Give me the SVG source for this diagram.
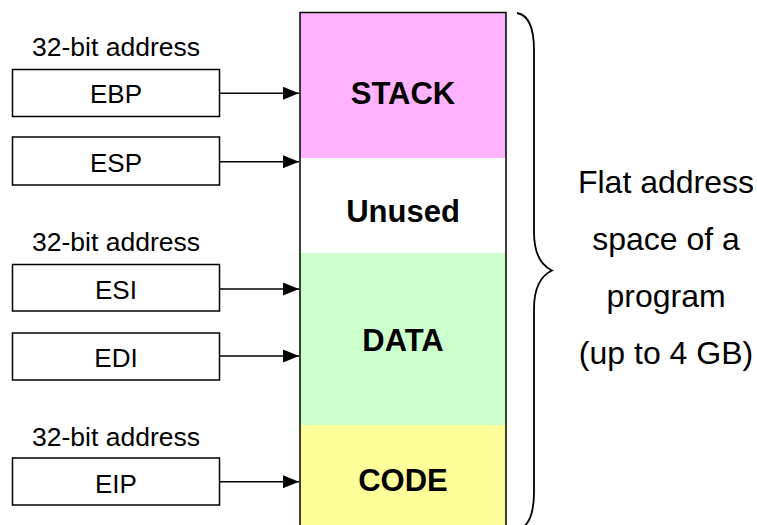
<svg xmlns="http://www.w3.org/2000/svg" width="757" height="525" viewBox="0 0 757 525">
  <style>
    .reg rect { fill: #ffffff; stroke: #000000; stroke-width: 1.5; }
    .reg text, .cap { font-family: "Liberation Sans", Arial, sans-serif; font-size: 26px; fill: #000000; text-anchor: middle; }
    .cap { font-size: 26.5px; }
    .seg text { font-family: "Liberation Sans", Arial, sans-serif; font-size: 31px; font-weight: bold; fill: #000000; text-anchor: middle; }
    .note { font-family: "Liberation Sans", Arial, sans-serif; font-size: 32px; fill: #000000; text-anchor: middle; }
    .link { stroke: #000000; stroke-width: 1.5; fill: none; marker-end: url(#head); }
  </style>
  <defs>
    <marker id="head" viewBox="0 0 16 13" refX="16" refY="6.5" markerWidth="16" markerHeight="13" markerUnits="userSpaceOnUse" orient="auto">
      <path d="M0,0 L16,6.5 L0,13 Z" fill="#000000"/>
    </marker>
  </defs>
  <rect width="757" height="525" fill="#ffffff"/>

  <!-- memory column segments -->
  <g id="stack" class="seg">
    <rect x="300" y="12.5" width="206" height="145.5" fill="#ffb3ff"/>
    <text x="403" y="104">STACK</text>
  </g>
  <g id="unused" class="seg">
    <rect x="300" y="158" width="206" height="95" fill="#ffffff"/>
    <text x="403" y="221.5">Unused</text>
  </g>
  <g id="data" class="seg">
    <rect x="300" y="253" width="206" height="172" fill="#ccffcc"/>
    <text x="403" y="350.5">DATA</text>
  </g>
  <g id="code" class="seg">
    <rect x="300" y="425" width="206" height="110" fill="#ffff99"/>
    <text x="403" y="490.5">CODE</text>
  </g>
  <!-- column outline (open at the bottom edge) -->
  <path d="M300,535 L300,12.5 L506,12.5 L506,535" fill="none" stroke="#000000" stroke-width="1.5"/>

  <!-- register boxes -->
  <text class="cap" x="116" y="55.5">32-bit address</text>
  <g id="ebp" class="reg">
    <rect x="12.5" y="69.5" width="207" height="47"/>
    <text x="116" y="103">EBP</text>
  </g>
  <g id="esp" class="reg">
    <rect x="12.5" y="137" width="207" height="48"/>
    <text x="116" y="171.5">ESP</text>
  </g>
  <text class="cap" x="116" y="250.5">32-bit address</text>
  <g id="esi" class="reg">
    <rect x="12.5" y="264.5" width="207" height="46.5"/>
    <text x="116" y="299.3">ESI</text>
  </g>
  <g id="edi" class="reg">
    <rect x="12.5" y="333" width="207" height="47"/>
    <text x="116" y="367.3">EDI</text>
  </g>
  <text class="cap" x="116" y="446">32-bit address</text>
  <g id="eip" class="reg">
    <rect x="12.5" y="458" width="207" height="47"/>
    <text x="116" y="492.7">EIP</text>
  </g>

  <!-- pointers into the address space -->
  <g id="connectors">
    <line class="link" x1="219.5" y1="93.3" x2="299" y2="93.3"/>
    <line class="link" x1="219.5" y1="161.7" x2="299" y2="161.7"/>
    <line class="link" x1="219.5" y1="289" x2="299" y2="289"/>
    <line class="link" x1="219.5" y1="356" x2="299" y2="356"/>
    <line class="link" x1="219.5" y1="481.7" x2="299" y2="481.7"/>
  </g>

  <!-- brace spanning the whole column -->
  <g id="brace">
    <path d="M517,13 Q534,16 534,50 L534,232 Q534,262 552,270.5 Q534,279 534,309 L534,492 Q534,526 517,530" fill="none" stroke="#000000" stroke-width="1.8"/>
  </g>

  <g id="caption">
    <text class="note" x="666" y="193">Flat address</text>
    <text class="note" x="666" y="250">space of a</text>
    <text class="note" x="666" y="307">program</text>
    <text class="note" x="666" y="364">(up to 4 GB)</text>
  </g>
</svg>
